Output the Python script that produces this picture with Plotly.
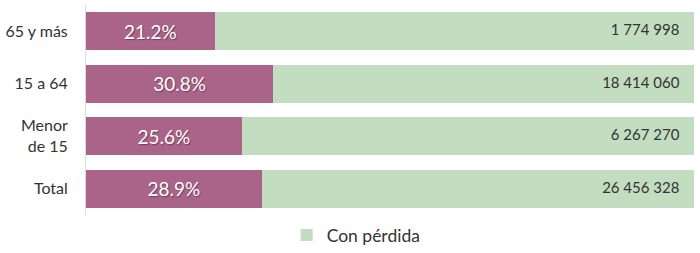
import plotly.graph_objects as go

categories = ["Total", "Menor<br>de 15", "15 a 64", "65 y más"]
pct_values = [28.9, 25.6, 30.8, 21.2]
count_labels = ["26 456 328", "6 267 270", "18 414 060", "1 774 998"]
legend_name = "Con pérdida"

pink = "#AA6489"
green = "#C3DDC1"
font_family = "Lato, 'Open Sans', sans-serif"

rest = [100 - v for v in pct_values]

fig = go.Figure()
fig.add_trace(go.Bar(
    y=categories, x=pct_values, orientation="h",
    marker=dict(color=pink, line=dict(width=0)),
    text=[f"{v:.1f}%" for v in pct_values],
    textposition="inside", insidetextanchor="middle",
    textfont=dict(color="white", size=19, family=font_family,
                  shadow="1px 1px 1px rgba(0,0,0,0.35)"),
    showlegend=False, hoverinfo="skip",
))
fig.add_trace(go.Bar(
    y=categories, x=rest, orientation="h",
    marker=dict(color=green, line=dict(width=0)),
    name=legend_name, showlegend=True, hoverinfo="skip",
))
fig.add_trace(go.Scatter(
    y=categories, x=[97.6] * len(categories), mode="text",
    text=count_labels, textposition="middle left",
    textfont=dict(color="#333333", size=15, family=font_family),
    showlegend=False, hoverinfo="skip",
))

fig.update_layout(
    width=700, height=253,
    margin=dict(l=86, r=6, t=5, b=38, autoexpand=False),
    barmode="stack", bargap=0.28,
    plot_bgcolor="white", paper_bgcolor="white",
    font=dict(family=font_family, color="#333333", size=15),
    xaxis=dict(range=[0, 100], showgrid=False, zeroline=False,
               showticklabels=False, showline=False),
    yaxis=dict(categoryorder="array", categoryarray=categories,
               range=[-0.5, 3.5],
               showgrid=False, zeroline=False, showline=True,
               linecolor="#dddddd", linewidth=1,
               ticks="", ticklabelstandoff=14,
               tickfont=dict(size=16, color="#333333")),
    legend=dict(orientation="h", x=0.33, xanchor="left",
                y=-0.015, yref="container", yanchor="bottom",
                font=dict(size=17.5, color="#333333"),
                itemwidth=30, traceorder="normal"),
)

fig.write_html("out.html")
